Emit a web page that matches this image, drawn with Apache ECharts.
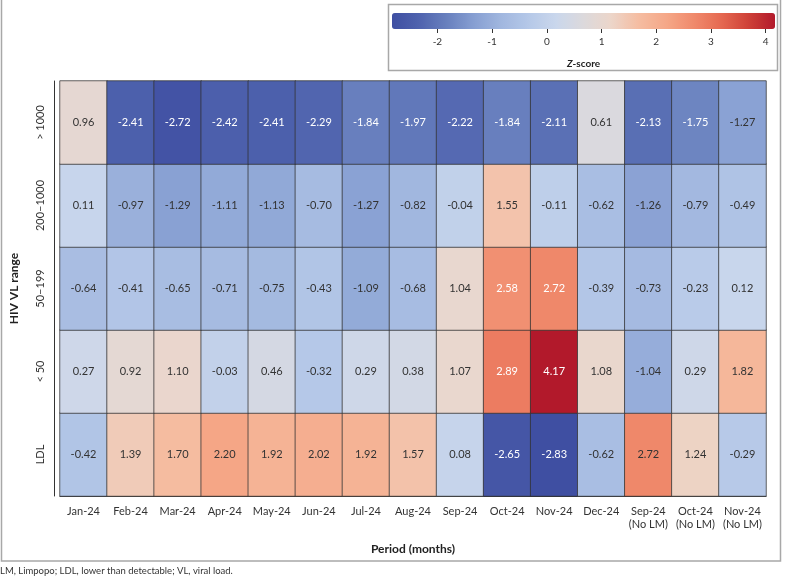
<!DOCTYPE html>
<html>
<head>
<meta charset="utf-8">
<script src="https://cdn.jsdelivr.net/npm/echarts@6/dist/echarts.min.js"></script>
<style>
  html, body { margin: 0; padding: 0; background: #fff; }
  #echart { width: 787px; height: 577px; }
</style>
</head>
<body>
<div id="echart"></div>
<script>
var periods = ['Jan-24', 'Feb-24', 'Mar-24', 'Apr-24', 'May-24', 'Jun-24', 'Jul-24', 'Aug-24',
  'Sep-24', 'Oct-24', 'Nov-24', 'Dec-24', 'Sep-24\n(No LM)', 'Oct-24\n(No LM)', 'Nov-24\n(No LM)'];
var vlRanges = ['LDL', '< 50', '50–199', '200–1000', '> 1000'];

// z-scores per VL range, one value per period
var zLDL      = [-0.42, 1.39, 1.70, 2.20, 1.92, 2.02, 1.92, 1.57, 0.08, -2.65, -2.83, -0.62, 2.72, 1.24, -0.29];
var zLt50     = [0.27, 0.92, 1.10, -0.03, 0.46, -0.32, 0.29, 0.38, 1.07, 2.89, 4.17, 1.08, -1.04, 0.29, 1.82];
var z50to199  = [-0.64, -0.41, -0.65, -0.71, -0.75, -0.43, -1.09, -0.68, 1.04, 2.58, 2.72, -0.39, -0.73, -0.23, 0.12];
var z200to1000 = [0.11, -0.97, -1.29, -1.11, -1.13, -0.70, -1.27, -0.82, -0.04, 1.55, -0.11, -0.62, -1.26, -0.79, -0.49];
var zGt1000   = [0.96, -2.41, -2.72, -2.42, -2.41, -2.29, -1.84, -1.97, -2.22, -1.84, -2.11, 0.61, -2.13, -1.75, -1.27];

var zMin = -2.83, zMax = 4.17;
var scaleTicks = [-2, -1, 0, 1, 2, 3, 4];

var rows = [zLDL, zLt50, z50to199, z200to1000, zGt1000];
var cells = [];
rows.forEach(function (row, y) {
  row.forEach(function (v, x) {
    var light = v < -1.5 || (v > 2.5 && y !== 0);
    cells.push({ value: [x, y, v], label: { color: light ? '#ffffff' : '#333333' } });
  });
});

var font = 'Lato';
var myChart = echarts.init(document.getElementById('echart'));
var option = {
  animation: false,
  textStyle: { fontFamily: font },
  grid: [
    { left: 55, right: 21, top: 81, bottom: 81 },
    { left: 392, top: 13, width: 383, height: 16 }
  ],
  xAxis: [
    {
      type: 'category',
      gridIndex: 0,
      data: periods,
      axisLine: { lineStyle: { color: '#333', width: 1 } },
      axisTick: { alignWithLabel: true, interval: 0, length: 5, lineStyle: { color: '#333' } },
      axisLabel: { interval: 0, hideOverlap: false, color: '#333', fontSize: 11, lineHeight: 13, margin: 9, fontFamily: font },
      splitLine: { show: false },
      name: 'Period (months)',
      nameLocation: 'middle',
      nameGap: 47,
      nameTextStyle: { color: '#222', fontSize: 12, fontWeight: 'bold', fontFamily: font }
    },
    {
      type: 'value',
      gridIndex: 1,
      min: zMin,
      max: zMax,
      axisLine: { show: false },
      splitLine: { show: false },
      axisTick: { show: true, length: 4, customValues: scaleTicks, lineStyle: { color: '#333' } },
      axisLabel: { customValues: scaleTicks, color: '#333', fontSize: 10, margin: 8, fontFamily: font },
      name: '{i|Z}-score',
      nameLocation: 'middle',
      nameGap: 30,
      nameTextStyle: {
        color: '#222', fontSize: 10, fontWeight: 'bold', fontFamily: font,
        rich: { i: { fontStyle: 'italic', fontWeight: 'bold', fontSize: 10, color: '#222', fontFamily: font } }
      }
    }
  ],
  yAxis: [
    {
      type: 'category',
      gridIndex: 0,
      data: vlRanges,
      offset: 6,
      axisLine: { lineStyle: { color: '#333', width: 1 } },
      axisTick: { alignWithLabel: true, length: 5, lineStyle: { color: '#333' } },
      axisLabel: { interval: 0, rotate: 90, color: '#333', fontSize: 11, margin: 8, fontFamily: font },
      splitLine: { show: false },
      name: 'HIV VL range',
      nameLocation: 'middle',
      nameGap: 34,
      nameTextStyle: { color: '#222', fontSize: 12, fontWeight: 'bold', fontFamily: font }
    },
    { type: 'value', gridIndex: 1, show: false, min: 0, max: 1 }
  ],
  visualMap: {
    type: 'continuous',
    min: zMin,
    max: zMax,
    seriesIndex: 0,
    orient: 'horizontal',
    left: 392,
    top: 13,
    itemWidth: 16,
    itemHeight: 383,
    padding: 0,
    calculable: false,
    hoverLink: false,
    text: null,
    inRange: {
      color: ['#3f4fa2', '#4f63ae', '#6880be', '#879fd2', '#a1b7df', '#b5c8e8', '#cad7ec',
        '#dcd9dc', '#ecd6ca', '#f5bda2', '#f5a888', '#f08b6d', '#e66a52', '#cf4238', '#b2192b']
    }
  },
  graphic: [
    { type: 'rect', shape: { x: 1.5, y: -2, width: 779, height: 563 }, style: { fill: 'none', stroke: '#a8a8a8', lineWidth: 1.5 }, silent: true },
    { type: 'rect', shape: { x: 388.5, y: 4.5, width: 389, height: 66 }, style: { fill: 'none', stroke: '#a8a8a8', lineWidth: 1.5 }, silent: true },
    { type: 'text', left: 0, top: 566, style: { text: 'LM, Limpopo; LDL, lower than detectable; VL, viral load.', fill: '#333', font: '9.5px Lato' }, silent: true }
  ],
  series: [
    {
      type: 'heatmap',
      xAxisIndex: 0,
      yAxisIndex: 0,
      data: cells,
      itemStyle: { borderColor: 'rgba(50,50,50,0.75)', borderWidth: 1 },
      label: {
        show: true,
        fontSize: 11,
        fontFamily: font,
        formatter: function (p) { return p.value[2].toFixed(2); }
      },
      emphasis: { disabled: true }
    }
  ]
};
myChart.setOption(option);
window.onresize = myChart.resize;
</script>
</body>
</html>
